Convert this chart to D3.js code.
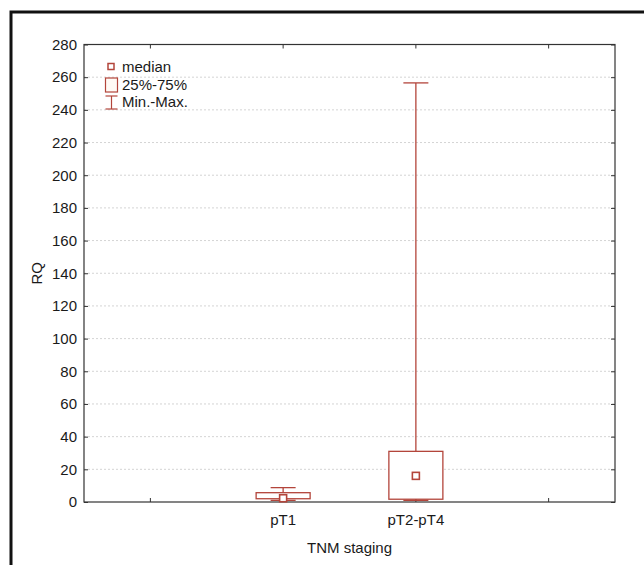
<!DOCTYPE html>
<html>
<head>
<meta charset="utf-8">
<script src="https://cdn.jsdelivr.net/npm/d3@7"></script>
<style>
  body { margin: 0; background: #fff; }
  svg { font-family: "Liberation Sans", Arial, sans-serif; }
  .axis text { font-size: 15px; fill: #1a1a1a; }
  .axis path { display: none; }
  .axis line { stroke: #333; }
</style>
</head>
<body>
<div id="chart"></div>
<script>
/* data */
var slots = ["s0", "pT1", "pT2-pT4", "s3"];       // 4 slots on the x axis, only middle two used
var slotLabels = ["", "pT1", "pT2-pT4", ""];
var groups = ["pT1", "pT2-pT4"];
var mins = [1.0, 1.0];
var q1s = [2.0, 1.7];
var medians = [2.3, 16.0];
var q3s = [5.7, 31.0];
var maxs = [8.8, 256.5];
var yTicks = [0, 20, 40, 60, 80, 100, 120, 140, 160, 180, 200, 220, 240, 260, 280];

/* constants */
var width = 644, height = 565;
var plotL = 84, plotR = 615, plotT = 44.5, plotB = 502;
var boxColor = "#b3453b";

var svg = d3.select("#chart").append("svg")
    .attr("width", width)
    .attr("height", height);

// outer frame (only left and top edges are visible in the picture)
svg.append("rect")
    .attr("x", 11).attr("y", 12)
    .attr("width", 800).attr("height", 800)
    .attr("fill", "none")
    .attr("stroke", "#111")
    .attr("stroke-width", 3);

var x = d3.scaleBand().domain(slots).range([plotL, plotR]);
var y = d3.scaleLinear().domain([0, 280]).range([plotB, plotT]);

// grid
svg.append("g").selectAll("line")
    .data(yTicks.filter(function(d){ return d > 0 && d < 280; }))
    .enter().append("line")
    .attr("x1", plotL).attr("x2", plotR)
    .attr("y1", function(d){ return y(d); })
    .attr("y2", function(d){ return y(d); })
    .attr("stroke", "#d4d4d4")
    .attr("stroke-dasharray", "2,2");

// axes, ticks pointing inward
svg.append("g").attr("class", "axis")
    .attr("transform", "translate(" + plotL + ",0)")
    .call(d3.axisLeft(y).tickValues(yTicks).tickSize(-4).tickPadding(7));

svg.append("g").attr("class", "axis")
    .attr("transform", "translate(" + plotR + ",0)")
    .call(d3.axisRight(y).tickValues(yTicks).tickSize(-4).tickFormat(""));

svg.append("g").attr("class", "axis")
    .attr("transform", "translate(0," + plotB + ")")
    .call(d3.axisBottom(x).tickSize(-4).tickPadding(12)
        .tickFormat(function(d, i){ return slotLabels[i]; }));

svg.append("g").attr("class", "axis")
    .attr("transform", "translate(0," + plotT + ")")
    .call(d3.axisTop(x).tickSize(-4).tickFormat(""));

// plot frame
svg.append("rect")
    .attr("x", plotL).attr("y", plotT)
    .attr("width", plotR - plotL).attr("height", plotB - plotT)
    .attr("fill", "none")
    .attr("stroke", "#333")
    .attr("stroke-width", 1.2);

// boxes
var boxW = 54, capW = 25, medS = 7;
var bw = x.bandwidth();

var g = svg.append("g").selectAll("g")
    .data(groups)
    .enter().append("g")
    .attr("transform", function(d){ return "translate(" + (x(d) + bw / 2) + ",0)"; });

g.append("line") // whisker
    .attr("x1", 0).attr("x2", 0)
    .attr("y1", function(d, i){ return y(maxs[i]); })
    .attr("y2", function(d, i){ return y(mins[i]); })
    .attr("stroke", boxColor).attr("stroke-width", 1.3);

g.append("line") // max cap
    .attr("x1", -capW / 2).attr("x2", capW / 2)
    .attr("y1", function(d, i){ return y(maxs[i]); })
    .attr("y2", function(d, i){ return y(maxs[i]); })
    .attr("stroke", boxColor).attr("stroke-width", 1.3);

g.append("rect")
    .attr("x", -boxW / 2)
    .attr("y", function(d, i){ return y(q3s[i]); })
    .attr("width", boxW)
    .attr("height", function(d, i){ return y(q1s[i]) - y(q3s[i]); })
    .attr("fill", "#fff")
    .attr("stroke", boxColor).attr("stroke-width", 1.3);

g.append("line") // min cap
    .attr("x1", -capW / 2).attr("x2", capW / 2)
    .attr("y1", function(d, i){ return y(mins[i]); })
    .attr("y2", function(d, i){ return y(mins[i]); })
    .attr("stroke", boxColor).attr("stroke-width", 1.3);

g.append("rect") // median
    .attr("x", -medS / 2)
    .attr("y", function(d, i){ return y(medians[i]) - medS / 2; })
    .attr("width", medS).attr("height", medS)
    .attr("fill", "#fff")
    .attr("stroke", boxColor).attr("stroke-width", 1.6);

// axis titles
svg.append("text")
    .attr("transform", "translate(42," + ((plotT + plotB) / 2) + ") rotate(-90)")
    .attr("text-anchor", "middle")
    .attr("font-size", 15).attr("fill", "#1a1a1a")
    .text("RQ");

svg.append("text")
    .attr("x", (plotL + plotR) / 2).attr("y", 553)
    .attr("text-anchor", "middle")
    .attr("font-size", 15).attr("fill", "#1a1a1a")
    .text("TNM staging");

// legend
var lg = svg.append("g").attr("font-size", 15).attr("fill", "#1a1a1a");
lg.append("rect").attr("x", 108).attr("y", 63.5).attr("width", 6).attr("height", 6)
    .attr("fill", "#fff").attr("stroke", boxColor).attr("stroke-width", 1.5);
lg.append("text").attr("x", 122).attr("y", 72).text("median");
lg.append("rect").attr("x", 105.5).attr("y", 78).attr("width", 12).attr("height", 14)
    .attr("fill", "#fffaf5").attr("stroke", boxColor).attr("stroke-width", 1.2);
lg.append("text").attr("x", 122).attr("y", 90).text("25%-75%");
lg.append("line").attr("x1", 111.5).attr("x2", 111.5).attr("y1", 96).attr("y2", 109)
    .attr("stroke", boxColor).attr("stroke-width", 1.2);
lg.append("line").attr("x1", 105.5).attr("x2", 117.5).attr("y1", 96).attr("y2", 96)
    .attr("stroke", boxColor).attr("stroke-width", 1.2);
lg.append("line").attr("x1", 105.5).attr("x2", 117.5).attr("y1", 109).attr("y2", 109)
    .attr("stroke", boxColor).attr("stroke-width", 1.2);
lg.append("text").attr("x", 122).attr("y", 107).text("Min.-Max.");
</script>
</body>
</html>
